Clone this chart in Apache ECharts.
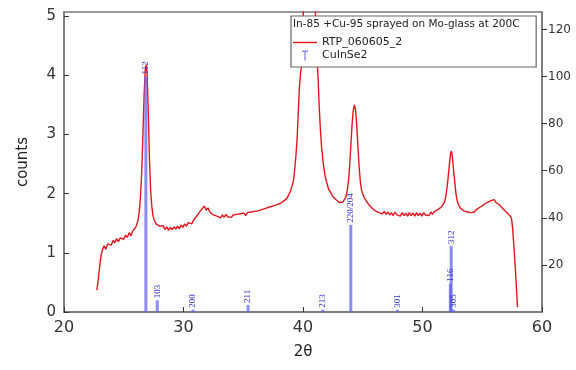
<!DOCTYPE html>
<html><head><meta charset="utf-8">
<script src="https://cdn.jsdelivr.net/npm/echarts@6/dist/echarts.min.js"></script>
<style>html,body{margin:0;padding:0;background:#fff}#chart{width:576px;height:370px}</style>
</head><body><div id="chart"></div>
<script>
// Measured XRD scan: [2θ (deg), counts (×1000)]
const rtpScan = [
  [22.75,0.37],[22.85,0.52],[22.95,0.70],[23.05,0.88],[23.15,1.00],[23.25,1.07],[23.35,1.12],[23.5,1.06],
  [23.65,1.15],[23.8,1.18],[23.95,1.13],[24.1,1.21],[24.25,1.17],[24.4,1.24],[24.55,1.19],[24.7,1.25],
  [24.85,1.28],[25.0,1.23],[25.15,1.30],[25.3,1.26],[25.45,1.34],[25.6,1.29],[25.75,1.37],[25.9,1.36],
  [26.0,1.43],[26.1,1.46],[26.2,1.55],[26.3,1.70],[26.4,1.95],[26.5,2.35],[26.6,2.95],[26.7,3.65],
  [26.8,4.10],[26.88,4.18],[26.95,4.05],[27.05,3.40],[27.15,2.60],[27.25,2.05],[27.35,1.78],[27.45,1.62],
  [27.55,1.56],[27.7,1.49],[27.85,1.47],[28.0,1.45],[28.15,1.44],[28.3,1.46],[28.45,1.39],[28.6,1.44],
  [28.75,1.38],[28.9,1.43],[29.05,1.39],[29.2,1.44],[29.35,1.40],[29.5,1.45],[29.65,1.41],[29.8,1.47],
  [29.95,1.43],[30.1,1.49],[30.25,1.45],[30.4,1.51],[30.55,1.53],[30.7,1.49],[30.85,1.56],[31.0,1.56],
  [31.15,1.63],[31.3,1.65],[31.45,1.72],[31.6,1.75],[31.75,1.79],[31.9,1.72],[32.05,1.76],[32.2,1.69],
  [32.35,1.69],[32.5,1.64],[32.65,1.65],[32.8,1.62],[32.95,1.64],[33.1,1.59],[33.25,1.64],[33.4,1.60],
  [33.55,1.65],[33.7,1.61],[33.85,1.63],[34.0,1.60],[34.15,1.64],[34.3,1.61],[34.45,1.65],[34.6,1.62],
  [34.75,1.66],[34.9,1.63],[35.05,1.67],[35.2,1.63],[35.35,1.68],[35.5,1.65],[35.65,1.69],[35.8,1.66],
  [35.95,1.70],[36.1,1.67],[36.25,1.71],[36.4,1.69],[36.55,1.73],[36.7,1.70],[36.85,1.75],[37.0,1.73],
  [37.15,1.77],[37.3,1.75],[37.45,1.79],[37.6,1.77],[37.75,1.81],[37.9,1.79],[38.05,1.83],[38.2,1.82],
  [38.35,1.87],[38.5,1.86],[38.65,1.92],[38.8,1.95],[38.95,2.04],[39.1,2.14],[39.2,2.22],[39.3,2.40],
  [39.4,2.62],[39.5,2.90],[39.6,3.35],[39.7,3.80],[39.8,4.05],[39.9,4.20],[40.0,4.90],[40.2,6.20],
  [40.5,6.80],[40.8,6.30],[41.0,5.30],[41.15,4.40],[41.27,3.92],[41.35,3.50],[41.45,3.10],[41.55,2.80],
  [41.7,2.50],[41.85,2.30],[42.0,2.18],[42.15,2.07],[42.3,2.03],[42.45,1.96],[42.6,1.96],[42.75,1.90],
  [42.9,1.90],[43.05,1.85],[43.2,1.86],[43.35,1.86],[43.5,1.91],[43.6,1.95],[43.7,2.05],[43.8,2.20],
  [43.9,2.45],[44.0,2.80],[44.1,3.15],[44.2,3.40],[44.3,3.50],[44.4,3.42],[44.5,3.15],[44.6,2.78],
  [44.7,2.45],[44.8,2.20],[44.9,2.06],[45.0,2.00],[45.15,1.92],[45.3,1.89],[45.45,1.83],[45.6,1.81],
  [45.75,1.76],[45.9,1.77],[46.05,1.71],[46.2,1.73],[46.35,1.68],[46.5,1.71],[46.65,1.66],[46.8,1.70],
  [46.95,1.65],[47.1,1.69],[47.25,1.64],[47.4,1.68],[47.55,1.63],[47.7,1.69],[47.85,1.64],[48.0,1.67],
  [48.15,1.62],[48.3,1.68],[48.45,1.63],[48.6,1.67],[48.75,1.62],[48.9,1.68],[49.05,1.63],[49.2,1.67],
  [49.35,1.62],[49.5,1.68],[49.65,1.63],[49.8,1.67],[49.95,1.62],[50.1,1.68],[50.25,1.64],[50.4,1.67],
  [50.55,1.63],[50.7,1.69],[50.85,1.65],[51.0,1.70],[51.15,1.67],[51.3,1.73],[51.45,1.72],[51.6,1.78],
  [51.75,1.80],[51.85,1.86],[51.95,1.95],[52.05,2.10],[52.15,2.28],[52.25,2.50],[52.35,2.68],[52.42,2.72],
  [52.5,2.62],[52.6,2.40],[52.7,2.20],[52.8,2.00],[52.9,1.88],[53.0,1.82],[53.15,1.76],[53.3,1.75],
  [53.45,1.71],[53.6,1.73],[53.75,1.69],[53.9,1.72],[54.05,1.68],[54.2,1.71],[54.35,1.69],[54.5,1.73],
  [54.65,1.72],[54.8,1.77],[54.95,1.76],[55.1,1.81],[55.25,1.80],[55.4,1.85],[55.55,1.84],[55.7,1.88],
  [55.85,1.86],[56.0,1.90],[56.15,1.85],[56.3,1.87],[56.45,1.81],[56.6,1.81],[56.75,1.74],[56.9,1.73],
  [57.05,1.68],[57.2,1.67],[57.35,1.62],[57.45,1.58],[57.55,1.40],[57.65,1.10],[57.75,0.80],[57.85,0.45],
  [57.95,0.08]
];

// CuInSe2 reference lines: position, relative intensity, Miller indices
const refTwoTheta = [26.85, 27.8, 30.8, 35.4, 41.65, 44.0, 47.9, 52.33, 52.4, 52.6];
const refIntensity = [100, 5, 1, 3, 1, 37, 1, 12, 28, 1];
const refHkl = ['112', '103', '200', '211', '213', '220/204', '301', '116', '312', '305'];

const xTicks = [20, 30, 40, 50, 60];
const countTicks = [0, 1, 2, 3, 4, 5];
const intensityTicks = [20, 40, 60, 80, 100, 120];

const titleText = 'In-85 +Cu-95 sprayed on Mo-glass at 200C';
const scanName = 'RTP_060605_2';
const refName = 'CuInSe2';

const FONT = 'DejaVu Sans';
const AXIS = '#777';

const chart = echarts.init(document.getElementById('chart'), null, {renderer: 'canvas'});

const refData = refTwoTheta.map((x, i) => ({value: [x, refIntensity[i]], name: refHkl[i]}));

// T-shaped marker, padded with tiny corner boxes so it keeps its width in the legend slot
const tIcon = 'path://M0,0h0.01v0.01h-0.01Z M23.99,9.99h0.01v0.01h-0.01Z M9,0H15V1.4H12.7V10H11.3V1.4H9Z';

chart.setOption({
  animation: false,
  backgroundColor: '#fff',
  grid: {left: 64, right: 34, top: 12, bottom: 58, show: true, borderColor: AXIS, borderWidth: 1.5},
  xAxis: {
    type: 'value', min: 20, max: 60, interval: 10,
    name: '2θ', nameLocation: 'middle', nameGap: 33,
    nameTextStyle: {fontFamily: FONT, fontSize: 15, color: '#222'},
    axisLine: {lineStyle: {color: AXIS, width: 1.5}},
    axisTick: {inside: true, length: 5, lineStyle: {color: '#333'}, customValues: xTicks},
    axisLabel: {fontFamily: FONT, fontSize: 16, color: '#333', margin: 8, customValues: xTicks},
    splitLine: {show: false}
  },
  yAxis: [
    {
      type: 'value', min: 0, max: 5.07, position: 'left',
      name: 'counts', nameLocation: 'middle', nameGap: 33,
      nameTextStyle: {fontFamily: FONT, fontSize: 15, color: '#222'},
      axisLine: {show: true, lineStyle: {color: AXIS, width: 1.5}},
      axisTick: {show: true, inside: true, length: 5, lineStyle: {color: '#333'}, customValues: countTicks},
      axisLabel: {fontFamily: FONT, fontSize: 15, color: '#333', margin: 8, customValues: countTicks},
      splitLine: {show: false}
    },
    {
      type: 'value', min: 0, max: 127.4, position: 'right',
      axisLine: {show: true, lineStyle: {color: AXIS, width: 1.5}},
      axisTick: {show: true, inside: false, length: 5, lineStyle: {color: '#333'}, customValues: intensityTicks},
      axisLabel: {fontFamily: FONT, fontSize: 12, color: '#333', margin: 6, customValues: intensityTicks},
      splitLine: {show: false}
    }
  ],
  // boxed key; the top padding leaves room for the sample description drawn by the title
  title: {
    text: titleText, left: 293, top: 19, padding: 0, z: 12,
    textStyle: {fontFamily: FONT, fontSize: 10.5, fontWeight: 'normal', color: '#222'}
  },
  legend: {
    left: 291, top: 16, orient: 'vertical', itemGap: 2, itemWidth: 24, itemHeight: 10, z: 10,
    padding: [21, 134, 6, 2],
    backgroundColor: '#fff', borderColor: '#666', borderWidth: 1.2,
    textStyle: {fontFamily: FONT, fontSize: 11, color: '#222'},
    data: [
      {name: scanName, icon: 'path://M0,4.3H24V5.7H0Z'},
      {name: refName, icon: tIcon}
    ]
  },
  series: [
    {
      name: scanName, type: 'line', data: rtpScan, yAxisIndex: 0, symbol: 'none',
      color: '#e8141c', lineStyle: {color: '#e8141c', width: 1.4}, clip: true, z: 2
    },
    {
      name: refName, type: 'bar', data: refData, yAxisIndex: 1, barWidth: 3, barGap: '-100%',
      color: '#6b6bf2', itemStyle: {color: 'rgba(100,100,240,0.75)'}, z: 3,
      label: {
        show: true, position: 'top', rotate: 90, align: 'left', verticalAlign: 'middle', distance: 2,
        formatter: '{b}', fontFamily: 'Liberation Serif', fontSize: 9, color: '#3030d8'
      }
    }
  ]
});
</script>
</body></html>
